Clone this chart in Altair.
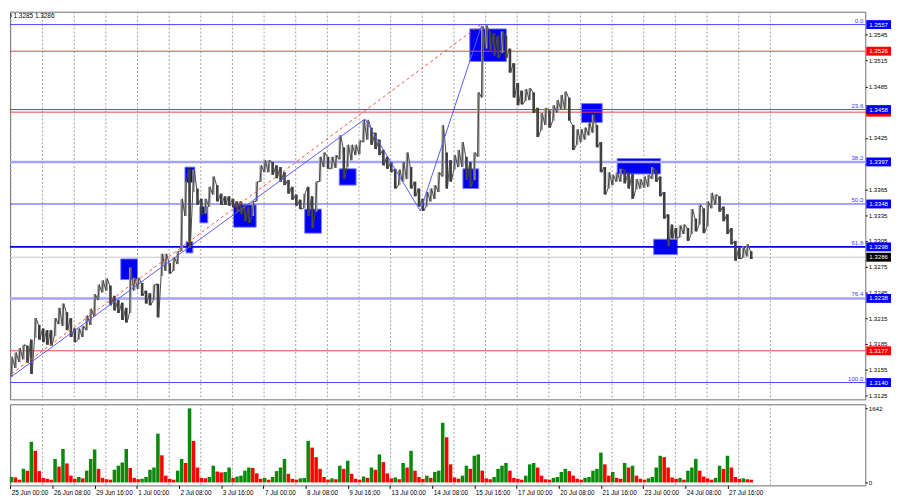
import json
import altair as alt
import pandas as pd

# ---------------- data ----------------
# GBP/USD H1, grouped by 3 hourly bars: group high / low
group_high = [
    1.3170, 1.3175, 1.3180, 1.3184, 1.3183, 1.3190, 1.3215, 1.3207, 1.3203, 1.3201,
    1.3201, 1.3215, 1.3227, 1.3232, 1.3222, 1.3215, 1.3203, 1.3203, 1.3206, 1.3218,
    1.3226, 1.3243, 1.3254, 1.3259, 1.3261, 1.3253, 1.3241, 1.3236, 1.3233, 1.3227,
    1.3274, 1.3262, 1.3262, 1.3256, 1.3247, 1.3244, 1.3254, 1.3255, 1.3290, 1.3290,
    1.3279, 1.3286, 1.3293, 1.3354, 1.3374, 1.3389, 1.3388, 1.3366, 1.3354, 1.3354,
    1.3368, 1.3380, 1.3370, 1.3360, 1.3357, 1.3357, 1.3354, 1.3351, 1.3351, 1.3347,
    1.3345, 1.3351, 1.3374, 1.3393, 1.3399, 1.3399, 1.3397, 1.3393, 1.3391, 1.3385,
    1.3376, 1.3368, 1.3359, 1.3353, 1.3360, 1.3368, 1.3357, 1.3374, 1.3403, 1.3408,
    1.3403, 1.3403, 1.3405, 1.3428, 1.3414, 1.3417, 1.3417, 1.3417, 1.3422, 1.3446,
    1.3446, 1.3437, 1.3431, 1.3423, 1.3411, 1.3403, 1.3397, 1.3389, 1.3388, 1.3397,
    1.3408, 1.3391, 1.3374, 1.3366, 1.3354, 1.3362, 1.3366, 1.3370, 1.3385, 1.3440,
    1.3408, 1.3399, 1.3405, 1.3411, 1.3420, 1.3403, 1.3397, 1.3408, 1.3478, 1.3555,
    1.3556, 1.3549, 1.3547, 1.3544, 1.3549, 1.3544, 1.3529, 1.3512, 1.3489, 1.3480,
    1.3482, 1.3483, 1.3478, 1.3460, 1.3454, 1.3460, 1.3457, 1.3463, 1.3469, 1.3475,
    1.3479, 1.3472, 1.3440, 1.3435, 1.3435, 1.3437, 1.3443, 1.3452, 1.3440, 1.3420,
    1.3391, 1.3385, 1.3382, 1.3385, 1.3389, 1.3388, 1.3385, 1.3383, 1.3377, 1.3377,
    1.3380, 1.3382, 1.3391, 1.3388, 1.3380, 1.3362, 1.3336, 1.3324, 1.3320, 1.3323,
    1.3324, 1.3320, 1.3342, 1.3331, 1.3347, 1.3343, 1.3351, 1.3361, 1.3359, 1.3357,
    1.3345, 1.3336, 1.3320, 1.3305, 1.3297, 1.3299, 1.3301, 1.3293,
]
group_low = [
    1.3147, 1.3157, 1.3164, 1.3167, 1.3163, 1.3150, 1.3192, 1.3190, 1.3187, 1.3184,
    1.3183, 1.3194, 1.3208, 1.3206, 1.3201, 1.3193, 1.3187, 1.3190, 1.3193, 1.3201,
    1.3207, 1.3217, 1.3236, 1.3245, 1.3247, 1.3230, 1.3224, 1.3221, 1.3213, 1.3210,
    1.3221, 1.3247, 1.3249, 1.3241, 1.3232, 1.3230, 1.3236, 1.3216, 1.3264, 1.3270,
    1.3267, 1.3270, 1.3278, 1.3293, 1.3334, 1.3297, 1.3362, 1.3347, 1.3336, 1.3337,
    1.3345, 1.3359, 1.3351, 1.3347, 1.3347, 1.3346, 1.3344, 1.3339, 1.3336, 1.3328,
    1.3326, 1.3334, 1.3351, 1.3374, 1.3385, 1.3385, 1.3382, 1.3378, 1.3374, 1.3370,
    1.3360, 1.3353, 1.3346, 1.3342, 1.3343, 1.3334, 1.3320, 1.3339, 1.3374, 1.3391,
    1.3389, 1.3389, 1.3390, 1.3400, 1.3377, 1.3391, 1.3399, 1.3405, 1.3406, 1.3420,
    1.3423, 1.3417, 1.3412, 1.3405, 1.3393, 1.3389, 1.3385, 1.3366, 1.3370, 1.3374,
    1.3377, 1.3366, 1.3357, 1.3345, 1.3340, 1.3345, 1.3351, 1.3354, 1.3362, 1.3380,
    1.3366, 1.3374, 1.3388, 1.3391, 1.3391, 1.3376, 1.3368, 1.3376, 1.3403, 1.3472,
    1.3529, 1.3526, 1.3521, 1.3518, 1.3524, 1.3518, 1.3501, 1.3472, 1.3463, 1.3464,
    1.3468, 1.3469, 1.3454, 1.3426, 1.3434, 1.3440, 1.3437, 1.3445, 1.3454, 1.3458,
    1.3458, 1.3445, 1.3411, 1.3417, 1.3420, 1.3423, 1.3428, 1.3431, 1.3414, 1.3385,
    1.3359, 1.3366, 1.3370, 1.3374, 1.3374, 1.3372, 1.3366, 1.3354, 1.3365, 1.3366,
    1.3367, 1.3368, 1.3377, 1.3374, 1.3357, 1.3331, 1.3299, 1.3308, 1.3308, 1.3309,
    1.3313, 1.3305, 1.3313, 1.3316, 1.3324, 1.3314, 1.3322, 1.3343, 1.3347, 1.3339,
    1.3328, 1.3313, 1.3301, 1.3282, 1.3284, 1.3285, 1.3287, 1.3284,
]
group_volume = [
    120, 110, 60, 300, 260, 900, 700, 250, 100, 80,
    60, 520, 350, 740, 420, 150, 80, 120, 90, 260,
    520, 730, 300, 100, 70, 60, 280, 370, 440, 740,
    320, 100, 70, 80, 120, 280, 330, 1080, 600, 150,
    80, 60, 260, 520, 430, 1640, 920, 330, 100, 90,
    120, 370, 240, 220, 230, 330, 100, 130, 150, 260,
    330, 320, 200, 80, 100, 60, 120, 250, 330, 520,
    190, 80, 60, 90, 100, 920, 770, 560, 300, 120,
    60, 90, 70, 370, 300, 480, 190, 80, 60, 130,
    100, 330, 280, 620, 450, 200, 90, 110, 70, 430,
    330, 700, 260, 120, 80, 150, 100, 230, 260, 1320,
    1000, 400, 110, 80, 150, 370, 300, 590, 620, 260,
    90, 70, 120, 300, 370, 430, 260, 100, 80, 60,
    150, 400, 430, 330, 150, 70, 60, 100, 120, 230,
    300, 250, 150, 80, 60, 100, 120, 260, 300, 660,
    400, 150, 230, 100, 80, 430, 330, 370, 150, 80,
    60, 90, 120, 330, 590, 560, 330, 110, 80, 100,
    60, 260, 330, 520, 260, 130, 90, 60, 100, 370,
    300, 590, 330, 120, 80, 90, 70, 60,
]

# horizontal levels
level_price = [1.3557, 1.3526, 1.3455, 1.3458, 1.3397, 1.3348, 1.3298, 1.3286, 1.3238, 1.3177, 1.3140]
level_kind = ["fib", "resistance", "resistance", "fib", "fib_wide", "fib", "fib_key", "bid", "fib_wide", "resistance", "fib"]

# Fibonacci captions
fib_price = [1.3557, 1.3458, 1.3397, 1.3348, 1.3298, 1.3238, 1.3140]
fib_text = ["0.0", "23.6", "38.2", "50.0", "61.8", "76.4", "100.0"]

# blue zones (bar index from 25 Jun 00:00, prices)
zone_start = [83.8, 133.3, 132.5, 143.8, 169.3, 223.3, 249.5, 343.3, 348.5, 433.3, 460.3, 488.0]
zone_end = [96.5, 138.5, 140.0, 149.8, 186.5, 236.0, 262.3, 355.3, 376.3, 449.0, 493.3, 506.0]
zone_top = [1.3284, 1.3304, 1.3391, 1.3345, 1.3347, 1.3342, 1.3389, 1.3389, 1.3552, 1.3465, 1.3401, 1.3307]
zone_bottom = [1.3260, 1.3291, 1.3373, 1.3326, 1.3321, 1.3314, 1.3370, 1.3366, 1.3514, 1.3443, 1.3383, 1.3289]

# blue zig-zag and dashed Fibonacci trend line
zig_bar = [-6.2, 269.0, 311.0, 357.5]
zig_price = [1.3139, 1.3447, 1.3340, 1.3556]
fibline_bar = [-6.2, 356.8]
fibline_price = [1.3142, 1.3557]

# axes
date_labels = ["25 Jun 00:00", "26 Jun 08:00", "29 Jun 16:00", "1 Jul 00:00", "2 Jul 08:00",
               "3 Jul 16:00", "7 Jul 00:00", "8 Jul 08:00", "9 Jul 16:00", "13 Jul 00:00",
               "14 Jul 08:00", "15 Jul 16:00", "17 Jul 00:00", "20 Jul 08:00", "21 Jul 16:00",
               "23 Jul 00:00", "24 Jul 08:00", "27 Jul 16:00"]
price_ticks = [1.3125, 1.3155, 1.3185, 1.3215, 1.3245, 1.3275, 1.3305, 1.3335,
               1.3365, 1.3395, 1.3425, 1.3455, 1.3485, 1.3515, 1.3545]
volume_ticks = [0, 1642]
header_text = "1.3289 1.3285 1.3286"

# ---------------- styling ----------------
LINE_STYLE = {
    "fib": ("#4646ff", 1.0),
    "fib_wide": ("#a4a4ff", 2.6),
    "fib_key": ("#0000e6", 1.7),
    "resistance": ("#e64545", 1.0),
    "bid": ("#c6c6c6", 1.0),
}
LABEL_BG = {"fib": "#0000ff", "fib_wide": "#0000ff", "fib_key": "#0000ff",
            "resistance": "#ff0000", "bid": "#000000"}
FONT = "Liberation Sans"
FS = 6.2

n = len(group_high)
bars_per_group = 3
candles = pd.DataFrame({
    "bar": [bars_per_group * g + 1 for g in range(n)],
    "hi": group_high,
    "lo": group_low,
})
mid = [(h + l) / 2 for h, l in zip(group_high, group_low)]
rising = [g == 0 or mid[g] >= mid[g - 1] for g in range(n)]
candles["col"] = ["#9a9a9a" if r else "#383838" for r in rising]

# a thin trace through the group extremes (low->high on rising groups, high->low on falling ones)
trace_rows = []
for g in range(n):
    first, second = (group_low[g], group_high[g]) if rising[g] else (group_high[g], group_low[g])
    trace_rows.append({"bar": bars_per_group * g + 0.4, "price": first, "o": 2 * g})
    trace_rows.append({"bar": bars_per_group * g + 1.6, "price": second, "o": 2 * g + 1})
trace = pd.DataFrame(trace_rows)

vol = pd.DataFrame({
    "x0": [bars_per_group * g - 0.35 for g in range(n)],
    "x1": [bars_per_group * g + 2.3 for g in range(n)],
    "vol": group_volume,
    "zero": [0] * n,
})
vol["col"] = ["#0a8a0a" if g == 0 or group_volume[g] >= group_volume[g - 1] else "#ff0000" for g in range(n)]

grid = pd.DataFrame({"bar": [0.5 + 24 * k for k in range(25)]})

levels = pd.DataFrame({"price": level_price, "kind": level_kind})
levels["col"] = [LINE_STYLE[k][0] for k in level_kind]
levels["w"] = [LINE_STYLE[k][1] for k in level_kind]

labels = pd.DataFrame({"price": level_price, "kind": level_kind,
                       "lab": [f"{p:.4f}" for p in level_price]})
labels["bg"] = [LABEL_BG[k] for k in level_kind]
labels_under = labels[labels["kind"] == "resistance"]
labels_over = labels[labels["kind"] != "resistance"]

fibs = pd.DataFrame({"price": fib_price, "t": fib_text})
zones = pd.DataFrame({"b0": zone_start, "b1": zone_end, "top": zone_top, "bot": zone_bottom})
zig = pd.DataFrame({"bar": zig_bar, "price": zig_price, "o": list(range(len(zig_bar)))})
fibline = pd.DataFrame({"bar": fibline_bar, "price": fibline_price, "o": [0, 1]})

# ---------------- scales / axes ----------------
W = 865
XS = alt.Scale(domain=[-0.225, 648.525], nice=False, zero=False)
YS = alt.Scale(domain=[1.312042, 1.357198], nice=False, zero=False)
VS = alt.Scale(domain=[-65.7, 1729.5], nice=False, zero=False)

price_axis = alt.Axis(orient="right", values=price_ticks, format=".4f", title=None, grid=False,
                      domain=False, ticks=True, tickSize=2, tickColor="#000000",
                      labelFont=FONT, labelFontSize=FS, labelColor="#000000", labelPadding=1,
                      labelOverlap=False, labelFlush=False, zindex=0)
vol_axis = alt.Axis(orient="right", values=volume_ticks, format="d", title=None, grid=False,
                    domain=False, ticks=True, tickSize=2, tickColor="#000000",
                    labelFont=FONT, labelFontSize=FS, labelColor="#000000", labelPadding=1,
                    labelOverlap=False, labelFlush=False, zindex=0)
label_expr = json.dumps(date_labels) + "[round(datum.value / 32)]"
date_axis = alt.Axis(values=[32 * i for i in range(len(date_labels))], labelExpr=label_expr,
                     title=None, grid=False, domain=False, ticks=True, tickSize=3,
                     tickColor="#000000", labelAlign="left", labelOffset=1.0,
                     labelFont=FONT, labelFontSize=6.4, labelColor="#000000", labelPadding=1,
                     labelOverlap=False, labelFlush=False, zindex=0)


def PY(field):
    return alt.Y(field, type="quantitative", scale=YS, axis=price_axis)


def PX(field):
    return alt.X(field, type="quantitative", scale=XS, axis=None)


# ---------------- price panel ----------------
grid_rules = alt.Chart(grid).mark_rule(color="#a0a0a0", strokeDash=[2, 2], strokeWidth=1).encode(
    x=PX("bar"))

zone_rects = alt.Chart(zones).mark_rect(fill="#0000f2", stroke="#7b7bff", strokeWidth=1).encode(
    x=PX("b0"), x2="b1:Q", y=PY("top"), y2="bot:Q")

level_rules = alt.Chart(levels).mark_rule().encode(
    y=PY("price"),
    color=alt.Color("col:N", scale=None),
    strokeWidth=alt.StrokeWidth("w:Q", scale=None))

candle_rules = alt.Chart(candles).mark_rule(strokeWidth=2.6).encode(
    x=PX("bar"), y=PY("lo"), y2="hi:Q",
    color=alt.Color("col:N", scale=None))

candle_trace = alt.Chart(trace).mark_line(color="#4a4a4a", strokeWidth=1, clip=True).encode(
    x=PX("bar"), y=PY("price"), order="o:Q")

fib_trend = alt.Chart(fibline).mark_line(color="#ff4a4a", strokeDash=[3, 3], strokeWidth=1, clip=True).encode(
    x=PX("bar"), y=PY("price"), order="o:Q")

zig_line = alt.Chart(zig).mark_line(color="#5c5cff", strokeWidth=1, clip=True).encode(
    x=PX("bar"), y=PY("price"), order="o:Q")

fib_captions = alt.Chart(fibs).mark_text(align="right", baseline="bottom", dy=-1, font=FONT,
                                         fontSize=FS, color="#3c3cff").encode(
    x=alt.value(W - 2), y=PY("price"), text="t:N")

header = alt.Chart(pd.DataFrame({"t": [header_text]})).mark_text(
    align="right", baseline="top", font=FONT, fontSize=6.5, color="#000000", clip=True).encode(
    x=alt.value(45), y=alt.value(1), text="t:N")


def price_tag(df):
    box = alt.Chart(df).mark_rect(yOffset=-4.5, y2Offset=4.5).encode(
        x=alt.value(W + 1), x2=alt.value(W + 26),
        y=PY("price"), y2="price:Q",
        fill=alt.Fill("bg:N", scale=None))
    txt = alt.Chart(df).mark_text(align="left", baseline="middle", font=FONT, fontSize=FS,
                                  color="#ffffff").encode(
        x=alt.value(W + 4), y=PY("price"), text="lab:N")
    return [box, txt]


price_panel = alt.layer(
    grid_rules, zone_rects, level_rules, candle_rules, candle_trace, fib_trend, zig_line,
    fib_captions, header, *price_tag(labels_under), *price_tag(labels_over)
).properties(width=W, height=392)

# ---------------- volume panel ----------------
vol_grid = alt.Chart(grid).mark_rule(color="#a0a0a0", strokeDash=[2, 2], strokeWidth=1).encode(
    x=alt.X("bar:Q", scale=XS, axis=date_axis))

vol_bars = alt.Chart(vol).mark_rect().encode(
    x=alt.X("x0:Q", scale=XS, axis=date_axis), x2="x1:Q",
    y=alt.Y("vol:Q", scale=VS, axis=vol_axis), y2="zero:Q",
    fill=alt.Fill("col:N", scale=None))

volume_panel = alt.layer(vol_grid, vol_bars).properties(width=W, height=82)

chart = alt.vconcat(price_panel, volume_panel, spacing=3).properties(
    padding={"left": 0, "top": 0, "right": 0, "bottom": 0}
).configure(background="#ffffff", font=FONT).configure_view(stroke="#6f6f6f", strokeWidth=1)

chart.save("out.html", embed_options={"renderer": "svg", "actions": False})
